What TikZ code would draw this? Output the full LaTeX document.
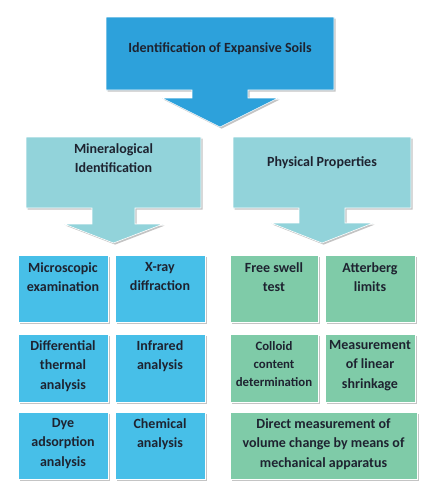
\documentclass[tikz,border=0pt]{standalone}
\usepackage{fontspec}
\setmainfont{Carlito}
\definecolor{topblue}{HTML}{2DA1DB}
\definecolor{midteal}{HTML}{92D3DA}
\definecolor{gridblue}{HTML}{47BFE8}
\definecolor{gridgreen}{HTML}{7FCBA8}
\definecolor{shadowgray}{HTML}{C4C4C4}
\definecolor{txt}{HTML}{1E2330}
% callout: #1 colour, #2 left, #3 right, #4 top, #5 bottom, #6 shaft half width, #7 wing y, #8 wing half width, #9 tip y
\newcommand\mycalloutpath[9]{%
  (#2,#4) -- (#3,#4) -- (#3,#5) -- ({(#2+#3)/2+#6},#5) -- ({(#2+#3)/2+#6},#7) -- ({(#2+#3)/2+#8},#7) -- ({(#2+#3)/2},#9) -- ({(#2+#3)/2-#8},#7) -- ({(#2+#3)/2-#6},#7) -- ({(#2+#3)/2-#6},#5) -- (#2,#5) -- cycle}
\newcommand\mycallout[9]{%
  \fill[shadowgray,shift={(1.6,1.6)}] \mycalloutpath{#1}{#2}{#3}{#4}{#5}{#6}{#7}{#8}{#9};
  \fill[#1,draw=white,line width=0.6pt] \mycalloutpath{#1}{#2}{#3}{#4}{#5}{#6}{#7}{#8}{#9};}
% box: #1 colour, #2 left, #3 top, #4 right, #5 bottom
\newcommand\mybox[5]{%
  \fill[shadowgray] (#2+1.6,#3+1.6) rectangle (#4+1.6,#5+1.6);
  \fill[#1,draw=white,line width=0.6pt] (#2,#3) rectangle (#4,#5);}
\tikzset{
  lbl/.style={anchor=north,align=center,inner sep=0pt,text=txt,
    font=\fontsize{14}{19.5}\selectfont\bfseries},
  lblsmall/.style={lbl,font=\fontsize{12.8}{18}\selectfont\bfseries},
  lbltitle/.style={lbl,font=\fontsize{14}{19}\selectfont\bfseries}
}
\begin{document}
\begin{tikzpicture}[x=1pt,y=-1pt]
\useasboundingbox (0,0) rectangle (435,491);
\fill[white] (0,0) rectangle (435,491);
% callouts
\mycallout{topblue}{106}{334}{17}{90}{28}{98}{58}{127}
\mycallout{midteal}{26}{201}{137}{208}{21.5}{224}{49.5}{243}
\mycallout{midteal}{233}{411}{137}{208}{23}{223}{51}{243}
\node[lbltitle] (title) at (220,42) {Identification of Expansive Soils};
\node[lbltitle] (mineral) at (113.5,143) {Mineralogical\\Identification};
\node[lbltitle] (physical) at (322,156) {Physical Properties};
% grid boxes
\mybox{gridblue}{18}{255}{108}{322}
\mybox{gridblue}{115}{255}{205}{322}
\mybox{gridgreen}{230}{255}{318}{322}
\mybox{gridgreen}{325}{255}{415}{322}
\mybox{gridblue}{18}{334}{108}{402}
\mybox{gridblue}{115}{334}{205}{402}
\mybox{gridgreen}{230}{334}{318}{402}
\mybox{gridgreen}{325}{334}{415}{402}
\mybox{gridblue}{18}{412}{108}{479}
\mybox{gridblue}{115}{412}{205}{479}
\mybox{gridgreen}{230}{412}{417}{479}
% texts
\node[lbl] (micro) at (63,262) {Microscopic\\examination};
\node[lbl] (xray) at (160,262) {X-ray\\diffraction};
\node[lbl] (swell) at (274,262) {Free swell\\test};
\node[lbl] (atter) at (370,262) {Atterberg\\limits};
\node[lbl] (dta) at (63,340) {Differential\\thermal\\analysis};
\node[lbl] (ir) at (160,340) {Infrared\\analysis};
\node[lblsmall] (colloid) at (274,341) {Colloid\\content\\determination};
\node[lbl] (shrink) at (370,340) {Measurement\\of linear\\shrinkage};
\node[lbl] (dye) at (63,418) {Dye\\adsorption\\analysis};
\node[lbl] (chem) at (160,418) {Chemical\\analysis};
\node[lbl] (direct) at (323.5,418) {Direct measurement of\\volume change by means of\\mechanical apparatus};
\end{tikzpicture}
\end{document}
